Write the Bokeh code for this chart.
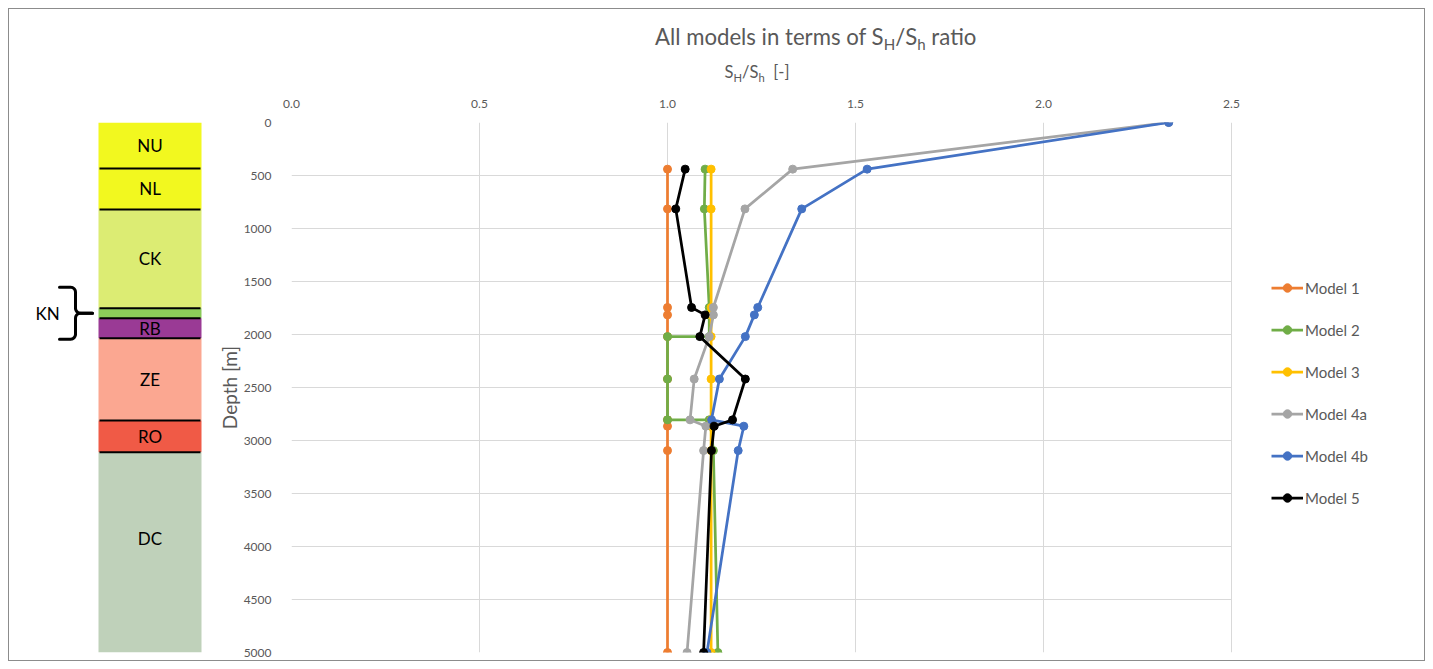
import math
from bokeh.plotting import figure
from bokeh.models import (Range1d, FixedTicker, NumeralTickFormatter, Legend,
                          LegendItem, Div)
from bokeh.layouts import row, column
from bokeh.embed import file_html
from bokeh.resources import INLINE
from bokeh.core.properties import value

# ---------------- data ----------------
x_ticks = [0.0, 0.5, 1.0, 1.5, 2.0, 2.5]
depth_ticks = [0, 500, 1000, 1500, 2000, 2500, 3000, 3500, 4000, 4500, 5000]

model_names = ["Model 1", "Model 2", "Model 3", "Model 4a", "Model 4b", "Model 5"]
model_colors = ["#ED7D31", "#70AD47", "#FFC000", "#A5A5A5", "#4472C4", "#000000"]

depth_m1 = [440, 815, 1745, 1815, 2020, 2420, 2805, 2865, 3095, 5000]
ratio_m1 = [1.00, 1.00, 1.00, 1.00, 1.00, 1.00, 1.00, 1.00, 1.00, 1.00]

depth_m2 = [440, 815, 1745, 1815, 2020, 2020, 2420, 2805, 2805, 2865, 3095, 5000]
ratio_m2 = [1.100, 1.098, 1.111, 1.111, 1.111, 1.00, 1.00, 1.00, 1.111, 1.115, 1.122, 1.134]

depth_m3 = [440, 815, 1745, 1815, 2020, 2420, 2805, 2865, 3095, 5000]
ratio_m3 = [1.116, 1.116, 1.116, 1.116, 1.116, 1.116, 1.116, 1.116, 1.116, 1.116]

depth_m4a = [0, 440, 815, 1745, 1815, 2020, 2420, 2805, 2865, 3095, 5000]
ratio_m4a = [2.333, 1.333, 1.206, 1.122, 1.122, 1.111, 1.071, 1.060, 1.102, 1.096, 1.052]

depth_m4b = [0, 440, 815, 1745, 1815, 2020, 2420, 2805, 2865, 3095, 5000]
ratio_m4b = [2.333, 1.531, 1.357, 1.240, 1.231, 1.207, 1.138, 1.117, 1.203, 1.188, 1.105]

depth_m5 = [440, 815, 1745, 1815, 2020, 2420, 2805, 2865, 3095, 5000]
ratio_m5 = [1.047, 1.022, 1.064, 1.100, 1.086, 1.207, 1.173, 1.124, 1.117, 1.096]

layer_names = ["NU", "NL", "CK", "KN", "RB", "ZE", "RO", "DC"]
layer_top = [0, 433, 821, 1752, 1846, 2035, 2811, 3110]
layer_base = [433, 821, 1752, 1846, 2035, 2811, 3110, 5000]
layer_colors = ["#F2F81F", "#F2F81F", "#DCEC73", "#8CCB5A", "#9A3A95",
                "#FBA791", "#F05A46", "#BFD1BA"]

series = [
    (depth_m1, ratio_m1), (depth_m2, ratio_m2), (depth_m3, ratio_m3),
    (depth_m4a, ratio_m4a), (depth_m4b, ratio_m4b), (depth_m5, ratio_m5),
]

FONT = "Lato"
TXT = "#595959"
FRAME_H = 530
PLOT_W = 940          # width of the gridded area
FIG_W = 1219
BORDER_L = 86
FRAME_W = FIG_W - BORDER_L   # frame extends under the legend area
x_max = x_ticks[-1]
x_end = x_max * FRAME_W / PLOT_W

# ---------------- main chart ----------------
p = figure(width=FIG_W, height=571, x_range=Range1d(0, x_end), y_range=Range1d(5000, 0),
           x_axis_location="above", output_backend="svg", toolbar_location=None,
           min_border_left=BORDER_L, min_border_right=0, min_border_top=33,
           min_border_bottom=8)
p.outline_line_color = None
p.background_fill_color = "white"
p.border_fill_color = "white"

p.xaxis.ticker = FixedTicker(ticks=x_ticks)
p.xaxis.formatter = NumeralTickFormatter(format="0.0")
p.xaxis.bounds = (0, x_max)
p.yaxis.ticker = FixedTicker(ticks=depth_ticks)
p.yaxis.axis_label = "Depth [m]"
for ax in (p.xaxis[0], p.yaxis[0]):
    ax.axis_line_color = None
    ax.major_tick_line_color = None
    ax.minor_tick_line_color = None
    ax.major_label_text_font = FONT
    ax.major_label_text_font_size = "12px"
    ax.major_label_text_color = TXT
p.xaxis.major_label_standoff = 9
p.yaxis.major_label_standoff = 14
p.yaxis.axis_label_text_font = FONT
p.yaxis.axis_label_text_font_size = "19px"
p.yaxis.axis_label_text_font_style = "normal"
p.yaxis.axis_label_text_color = TXT
p.yaxis.axis_label_standoff = 0

p.grid.grid_line_color = "#D9D9D9"
p.grid.grid_line_width = 1
p.ygrid.cross_bounds = (0, x_max)

items = []
for (d, r), name, col in zip(series, model_names, model_colors):
    lr = p.line(r, d, line_color=col, line_width=2.75)
    sr = p.scatter(r, d, marker="circle", size=8, fill_color=col, line_color=col)
    items.append(LegendItem(label=name, renderers=[lr, sr]))

legend = Legend(items=items, location=(980, 144),
                label_text_font=FONT, label_text_font_size="15px",
                label_text_color=TXT, glyph_width=32, glyph_height=21,
                label_height=21, spacing=21, label_standoff=2,
                margin=0, padding=10, border_line_color=None,
                background_fill_alpha=0)
p.add_layout(legend)

# ---------------- stratigraphic column ----------------
s = figure(width=196, height=571, x_range=Range1d(0, 196), y_range=p.y_range,
           x_axis_location=None, y_axis_location=None,
           output_backend="svg", toolbar_location=None,
           min_border_left=0, min_border_right=0, min_border_top=33,
           min_border_bottom=8)
s.outline_line_color = None
s.grid.visible = False

s.quad(left=89, right=192, top=layer_top, bottom=layer_base,
       fill_color=layer_colors, line_color=None)
bounds = layer_top[1:]
s.segment(x0=90, x1=191, y0=bounds, y1=bounds, line_color="black", line_width=2)

# label anchors: layer centre, the thick DC unit labelled a little higher (as in the figure)
lab_names = [n for n in layer_names if n != "KN"]
lab_depth = []
for n, t, b in zip(layer_names, layer_top, layer_base):
    if n == "KN":
        continue
    lab_depth.append(t + (b - t) * (0.43 if n == "DC" else 0.5))
s.text(x=[140.5] * len(lab_names), y=lab_depth, text=lab_names,
       text_align="center", text_baseline="middle",
       text_font=value(FONT), text_font_size="17px", text_color="black")

# KN brace
kn = layer_names.index("KN")
kn_c = (layer_top[kn] + layer_base[kn]) / 2
m_per_px = (depth_ticks[-1] - depth_ticks[0]) / FRAME_H


def brace_half(sign):
    pts = [(50, -26)]
    for k in range(7):
        th = math.radians(-90 + 15 * k)
        pts.append((61 + 5 * math.cos(th), -21 + 5 * math.sin(th)))
    for k in range(7):
        th = math.radians(180 - 15 * k)
        pts.append((71 + 5 * math.cos(th), -5 + 5 * math.sin(th)))
    pts.append((83, 0))
    xs = [a for a, b in pts]
    ys = [kn_c + sign * b * m_per_px for a, b in pts]
    return xs, ys


bx1, by1 = brace_half(1)
bx2, by2 = brace_half(-1)
s.multi_line(xs=[bx1, bx2], ys=[by1, by2], line_color="black", line_width=3,
             line_cap="round", line_join="round")
s.text(x=[38], y=[kn_c], text=["KN"], text_align="center", text_baseline="middle",
       text_font=value(FONT), text_font_size="17px", text_color="black")

# ---------------- header (title and x-axis label with subscripts) ----------------
sub = 'style="font-size:0.68em;line-height:0;vertical-align:-0.32em;"'
header_html = (
    '<div style="position:relative;width:1415px;height:80px;font-family:Lato;color:#595959;">'
    '<div style="position:absolute;left:646px;top:15px;font-size:22.2px;line-height:26px;white-space:nowrap;">'
    f'All models in terms of S<sub {sub}>H</sub>/S<sub {sub}>h</sub> ratio</div>'
    '<div style="position:absolute;left:648px;top:53px;width:200px;text-align:center;'
    'font-size:16.5px;line-height:20px;white-space:nowrap;">'
    f'S<sub {sub}>H</sub>/S<sub {sub}>h</sub>&nbsp;&nbsp;[-]</div>'
    '</div>'
)
header = Div(text=header_html, width=1415, height=80, margin=0)

layout = column(header, row(s, p), margin=(8, 0, 0, 8),
                styles={"border": "1px solid #8c8c8c", "background": "white"})

open("out.html", "w").write(file_html(layout, INLINE))
